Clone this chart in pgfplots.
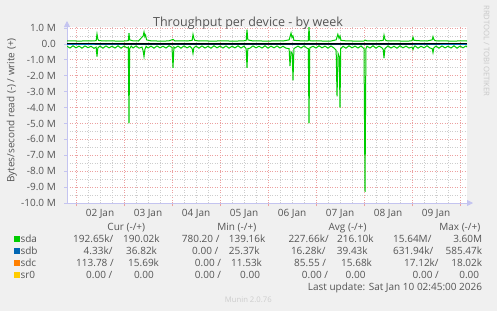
\documentclass[border=0pt]{standalone}
\usepackage{pgfplots}
\pgfplotsset{compat=1.18}
\usepackage{fontspec}
\setmainfont{Open Sans}
\usetikzlibrary{arrows.meta}
\definecolor{bgc}{HTML}{F0F0F0}
\definecolor{txt}{HTML}{555555}
\definecolor{mgrid}{RGB}{236,160,160}
\definecolor{ngrid}{RGB}{205,205,205}
\definecolor{axc}{RGB}{196,196,240}
\definecolor{csda}{HTML}{00CC00}
\definecolor{csdb}{HTML}{0066B3}
\definecolor{csdc}{HTML}{FF8000}
\definecolor{csr}{HTML}{FFCC00}
\newcommand{\lgf}{\fontsize{10}{12}\selectfont}
\newcommand{\ValR}[3]{\node[anchor=base east,inner sep=0pt,font=\lgf,text=txt] at (#1pt,-#2pt) {#3};}
\newcommand{\ValL}[3]{\node[anchor=base west,inner sep=0pt,font=\lgf,text=txt] at (#1pt,-#2pt) {#3};}
\newcommand{\HdrC}[3]{\node[anchor=base,inner sep=0pt,font=\lgf,text=txt] at (#1pt,-#2pt) {#3};}
\newcommand{\LegR}[3]{\fill[#3] (14pt,-#1pt+2.9pt) rectangle (19.8pt,-#1pt-2.9pt);
  \node[anchor=base west,inner sep=0pt,font=\lgf,text=txt] at (20.3pt,-#1pt-3.6pt) {#2};}

\pgfplotstableread{
x y
0.8125 -0.15
0.875 -0.26
0.9375 -0.12
1.0 -0.25
1.0625 -0.14
1.125 -0.27
1.1875 -0.13
1.25 -0.24
1.3125 -0.15
1.375 -0.28
1.42 -0.2
1.4375 -0.80
1.455 -0.25
1.5 -0.14
1.5625 -0.27
1.625 -0.13
1.6875 -0.25
1.75 -0.15
1.8125 -0.26
1.875 -0.12
1.9375 -0.27
2.0 -0.14
2.0625 -0.25
2.09 -0.2
2.104 -5.0
2.118 -0.3
2.15 -0.14
2.1875 -0.26
2.25 -0.13
2.3125 -0.27
2.375 -0.2
2.40 -0.45
2.417 -0.80
2.435 -0.35
2.46 -0.15
2.5 -0.26
2.5625 -0.14
2.625 -0.27
2.6875 -0.13
2.75 -0.25
2.8125 -0.15
2.875 -0.26
2.9375 -0.12
3.0 -0.22
3.021 -1.5
3.04 -0.2
3.0625 -0.26
3.125 -0.14
3.1875 -0.27
3.25 -0.13
3.3125 -0.25
3.375 -0.15
3.42 -0.3
3.4375 -0.60
3.455 -0.25
3.5 -0.14
3.5625 -0.27
3.625 -0.13
3.6875 -0.26
3.75 -0.15
3.8125 -0.27
3.875 -0.12
3.9375 -0.25
4.0 -0.14
4.0625 -0.26
4.125 -0.13
4.1875 -0.27
4.25 -0.15
4.3125 -0.25
4.375 -0.12
4.4375 -0.26
4.5 -0.14
4.545 -0.3
4.5625 -1.5
4.58 -0.3
4.625 -0.27
4.6875 -0.13
4.75 -0.25
4.8125 -0.15
4.875 -0.26
4.9375 -0.12
5.0 -0.27
5.0625 -0.14
5.125 -0.25
5.1875 -0.13
5.25 -0.26
5.3125 -0.15
5.375 -0.27
5.44 -0.3
5.458 -1.4
5.48 -0.5
5.505 -0.6
5.521 -2.3
5.54 -0.3
5.5625 -0.25
5.625 -0.14
5.6875 -0.26
5.75 -0.13
5.8125 -0.27
5.84 -0.3
5.854 -5.0
5.87 -0.25
5.9375 -0.15
6.0 -0.26
6.0625 -0.12
6.125 -0.25
6.1875 -0.14
6.25 -0.27
6.3125 -0.13
6.375 -0.26
6.42 -0.4
6.438 -3.3
6.46 -0.6
6.485 -0.8
6.5 -4.0
6.515 -0.3
6.5625 -0.15
6.625 -0.27
6.6875 -0.12
6.75 -0.25
6.8125 -0.14
6.875 -0.26
6.9375 -0.13
7.0 -0.3
7.021 -9.3
7.04 -0.3
7.0625 -0.15
7.125 -0.26
7.1875 -0.12
7.25 -0.27
7.3125 -0.14
7.375 -0.25
7.40 -0.35
7.417 -0.9
7.435 -0.3
7.5 -0.13
7.5625 -0.26
7.625 -0.15
7.6875 -0.27
7.75 -0.12
7.8125 -0.25
7.875 -0.14
7.9375 -0.26
8.0 -0.2
8.021 -0.35
8.04 -0.2
8.0625 -0.13
8.125 -0.27
8.1875 -0.15
8.25 -0.25
8.3125 -0.12
8.375 -0.26
8.42 -0.3
8.4375 -0.55
8.455 -0.25
8.5 -0.14
8.5625 -0.27
8.625 -0.13
8.6875 -0.25
8.75 -0.15
8.8125 -0.26
8.875 -0.12
8.9375 -0.27
9.0 -0.14
9.0625 -0.25
9.125 -0.13
9.146 -0.2
}\sdaread

\pgfplotstableread{
x y
0.8125 0.18
0.9375 0.19
1.0625 0.17
1.1875 0.19
1.3125 0.18
1.42 0.2
1.4375 0.62
1.455 0.3
1.47 0.22
1.5 0.2
1.625 0.18
1.75 0.19
1.875 0.17
2.0 0.18
2.09 0.2
2.104 0.67
2.118 0.25
2.1875 0.19
2.30 0.18
2.40 0.5
2.417 0.75
2.435 0.45
2.45 0.55
2.47 0.25
2.5625 0.19
2.6875 0.18
2.8125 0.17
2.9375 0.19
3.021 0.28
3.0625 0.18
3.1875 0.19
3.3125 0.18
3.42 0.22
3.4375 0.6
3.455 0.35
3.475 0.22
3.5625 0.18
3.6875 0.19
3.8125 0.17
3.9375 0.18
4.0625 0.19
4.1875 0.18
4.3125 0.17
4.4375 0.19
4.545 0.2
4.5625 0.9
4.58 0.25
4.6875 0.18
4.8125 0.19
4.9375 0.17
5.0625 0.18
5.1875 0.19
5.3125 0.18
5.44 0.25
5.48 0.68
5.50 0.4
5.52 0.5
5.54 0.22
5.6875 0.19
5.8125 0.18
5.84 0.2
5.854 1.1
5.87 0.2
5.9375 0.18
6.0625 0.19
6.1875 0.17
6.3125 0.18
6.42 0.25
6.455 0.6
6.48 0.35
6.5 0.5
6.52 0.22
6.625 0.19
6.75 0.18
6.875 0.17
7.0 0.18
7.021 0.24
7.0625 0.19
7.1875 0.18
7.3125 0.19
7.40 0.22
7.417 0.55
7.435 0.3
7.46 0.2
7.5625 0.18
7.6875 0.19
7.8125 0.17
7.9375 0.18
8.0 0.2
8.021 0.42
8.04 0.22
8.1875 0.19
8.3125 0.18
8.42 0.25
8.4375 0.45
8.455 0.28
8.48 0.2
8.5625 0.18
8.6875 0.19
8.8125 0.17
8.9375 0.18
9.0625 0.19
9.146 0.18
}\sdawrite

\begin{document}
\begin{tikzpicture}
\fill[bgc] (0,0) rectangle (497pt,-311pt);
\begin{axis}[
  at={(67pt,-203pt)}, anchor=south west,
  scale only axis, width=400pt, height=176pt,
  xmin=0.8125, xmax=9.146, ymin=-10, ymax=1.06,
  axis background/.style={fill=white},
  axis x line*=bottom, axis y line*=left,
  axis line style={draw=axc, line width=0.8pt},
  x axis line style={-{Triangle[length=6pt,width=6pt]}, shorten >=-6pt},
  y axis line style={-{Triangle[length=6pt,width=6pt]}, shorten >=-6pt},
  xtick={1,2,3,4,5,6,7,8,9}, xticklabels={},
  minor x tick num=3,
  ytick={-10,-9,-8,-7,-6,-5,-4,-3,-2,-1,0,1},
  yticklabels={-10.0 M,-9.0 M,-8.0 M,-7.0 M,-6.0 M,-5.0 M,-4.0 M,-3.0 M,-2.0 M,-1.0 M,0.0,1.0 M},
  minor y tick num=1,
  grid=both,
  major grid style={draw=mgrid, dash pattern=on 1pt off 1.5pt, line width=0.7pt},
  minor grid style={draw=ngrid, dash pattern=on 1pt off 1.5pt, line width=0.7pt},
  extra x ticks={1.5,2.5,3.5,4.5,5.5,6.5,7.5,8.5},
  extra x tick labels={02 Jan,03 Jan,04 Jan,05 Jan,06 Jan,07 Jan,08 Jan,09 Jan},
  extra x tick style={grid=none, major tick length=0pt},
  major tick length=3pt, minor tick length=0pt, tick align=outside,
  x tick style={draw=mgrid, line width=0.7pt},
  y tick style={draw=axc, line width=0.7pt},
  tick label style={font=\lgf, text=txt, inner sep=0pt},
  x tick label style={anchor=base, yshift=-13.3pt},
  y tick label style={anchor=base east, xshift=-8pt, yshift=-3.6pt},
  clip=true,
]
\addplot[csdc, line width=1pt] coordinates {(0.8125,0.016) (9.146,0.016)};
\addplot[csr, line width=1pt] coordinates {(0.8125,0) (9.146,0)};
\addplot[csda, line width=1pt] table[x=x,y=y] {\sdaread};
\addplot[csda, line width=1pt] table[x=x,y=y] {\sdawrite};
\addplot[black, line width=1.6pt] coordinates {(0.8125,0) (9.146,0)};
\addplot[csdb, line width=1pt] coordinates {(0.8125,-0.07) (2.0,-0.07) (4.0,-0.07) (6.0,-0.07) (8.0,-0.07) (9.146,-0.07)};
\end{axis}
% title and side texts
\node[anchor=base,inner sep=0pt,font=\fontsize{12.5}{14}\selectfont,text=txt] at (248pt,-26pt) {Throughput per device - by week};
\node[rotate=90,inner sep=0pt,font=\lgf,text=txt] at (11.7pt,-110.5pt) {Bytes/second read (-) / write (+)};
\node[rotate=-90,inner sep=0pt,font=\fontsize{7.7}{9}\selectfont,text={rgb,255:red,200;green,200;blue,200}] at (486.7pt,-51pt) {RRDTOOL / TOBI OETIKER};
% legend headers
\HdrC{126.3}{230.6}{Cur (-/+)}
\HdrC{236.8}{230.6}{Min (-/+)}
\HdrC{347.6}{230.6}{Avg (-/+)}
\HdrC{459.8}{230.6}{Max (-/+)}
% rows
\LegR{239.3}{sda}{csda}
\LegR{251.3}{sdb}{csdb}
\LegR{263.3}{sdc}{csdc}
\LegR{275.3}{sr0}{csr}
\ValL{73}{242.9}{192.65k/}\ValL{123}{242.9}{190.02k}\ValL{181.7}{242.9}{780.20 /}\ValL{228.7}{242.9}{139.16k}
\ValL{288.3}{242.9}{227.66k/}\ValL{337}{242.9}{216.10k}\ValL{393}{242.9}{15.64M/}\ValR{482.3}{242.9}{3.60M}
\ValL{83.5}{254.9}{4.33k/}\ValL{126}{254.9}{36.82k}\ValL{192}{254.9}{0.00 /}\ValL{228.7}{254.9}{25.37k}
\ValL{290.8}{254.9}{16.28k/}\ValL{336.7}{254.9}{39.43k}\ValL{393}{254.9}{631.94k/}\ValR{482.3}{254.9}{585.47k}
\ValL{76}{266.9}{113.78 /}\ValL{128}{266.9}{15.69k}\ValL{194.7}{266.9}{0.00 /}\ValL{231}{266.9}{11.53k}
\ValL{294}{266.9}{85.55 /}\ValL{341}{266.9}{15.68k}\ValL{404}{266.9}{17.12k/}\ValR{482.3}{266.9}{18.02k}
\ValL{86}{278.9}{0.00 /}\ValL{133.8}{278.9}{0.00}\ValL{194.7}{278.9}{0.00 /}\ValL{240}{278.9}{0.00}
\ValL{301.7}{278.9}{0.00 /}\ValL{345.5}{278.9}{0.00}\ValL{412.5}{278.9}{0.00 /}\ValR{479.3}{278.9}{0.00}
\ValR{482.3}{290.3}{Last update: Sat Jan 10 02:45:00 2026}
\node[anchor=base,inner sep=0pt,font=\fontsize{7.7}{9}\selectfont,text={rgb,255:red,205;green,205;blue,205}] at (248.3pt,-302pt) {Munin 2.0.76};
\end{tikzpicture}
\end{document}
